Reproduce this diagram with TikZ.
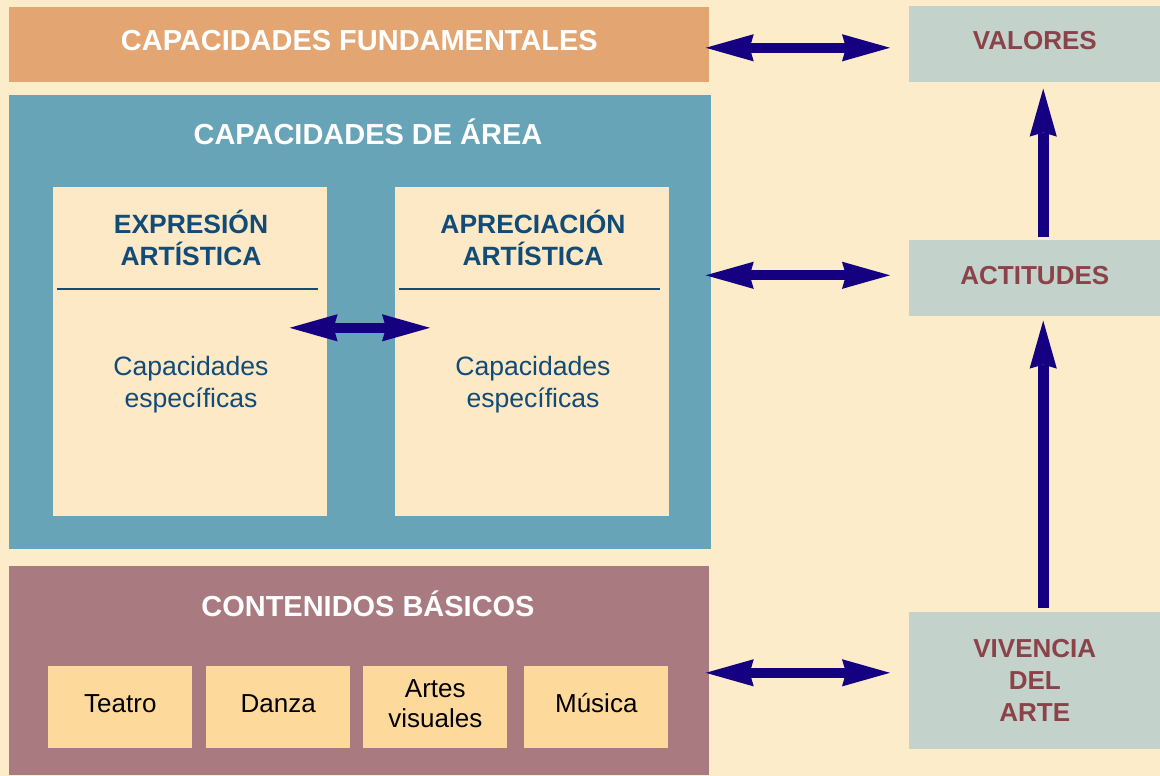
\documentclass[tikz,border=0pt]{standalone}
\usepackage{fontspec}
\setmainfont{Liberation Sans}
\usetikzlibrary{arrows.meta}

\definecolor{bgcream}{HTML}{FCECC9}
\definecolor{fundorange}{HTML}{E3A673}
\definecolor{areateal}{HTML}{68A4B7}
\definecolor{innercream}{HTML}{FDE9C5}
\definecolor{contmauve}{HTML}{A97B80}
\definecolor{artesand}{HTML}{FDDA9B}
\definecolor{sidegray}{HTML}{C3D2CB}
\definecolor{sidered}{HTML}{8B4349}
\definecolor{innernavy}{HTML}{114B77}
\definecolor{arrowblue}{HTML}{140080}

\begin{document}
\begin{tikzpicture}[
    x=0.025cm, y=-0.025cm,
    box/.style={
        rectangle,
        inner sep=0pt,
        anchor=north west,
        align=center
    },
    bigtitle/.style={
        text=white,
        font=\fontsize{20.6}{24}\selectfont\bfseries
    },
    innertitle/.style={
        text=innernavy,
        align=center,
        font=\fontsize{18.8}{22.8}\selectfont\bfseries
    },
    spectext/.style={
        text=innernavy,
        align=center,
        font=\fontsize{18.9}{22.8}\selectfont
    },
    artebox/.style={
        box, fill=artesand,
        minimum width=3.6cm, minimum height=2.05cm,
        text depth=0.2cm,
        font=\fontsize{18.5}{21.5}\selectfont
    },
    sidebox/.style={
        box, fill=sidegray, text=sidered,
        minimum width=6.275cm,
        font=\fontsize{18.5}{22.8}\selectfont\bfseries
    },
    dblarrow/.style={
        draw=arrowblue, line width=0.25cm,
        {Stealth[length=1.2cm, width=0.68cm, inset=0.1cm, line width=0pt]}-{Stealth[length=1.2cm, width=0.68cm, inset=0.1cm, line width=0pt]}
    },
    uparrow/.style={
        draw=arrowblue, line width=0.27cm,
        -{Stealth[length=1.2cm, width=0.68cm, inset=0.1cm, line width=0pt]}
    }
]

    % Background
    \useasboundingbox (0,0) rectangle (1160,776);
    \fill[bgcream] (0,0) rectangle (1160,776);

    % Left blocks
    \node [box, bigtitle, fill=fundorange, minimum width=17.5cm, minimum height=1.875cm, text depth=0.2cm] (fund) at (9,7) {CAPACIDADES FUNDAMENTALES};
    \node [box, fill=areateal, minimum width=17.55cm, minimum height=11.35cm] (area) at (9,95) {};
    \node [bigtitle] (areatitle) at (368,132) {CAPACIDADES DE ÁREA};

    \node [box, fill=innercream, minimum width=6.85cm, minimum height=8.225cm] (expr) at (53,187) {};
    \node [box, fill=innercream, minimum width=6.85cm, minimum height=8.225cm] (apre) at (395,187) {};
    \node [innertitle] (exprtitle) at (191,238) {EXPRESIÓN\\ARTÍSTICA};
    \node [innertitle] (apretitle) at (533,238) {APRECIACIÓN\\ARTÍSTICA};
    \draw [innernavy, line width=1.8pt] ([shift={(4,102)}]expr.north west) -- ([shift={(-10,102)}]expr.north east);
    \draw [innernavy, line width=1.8pt] ([shift={(4,102)}]apre.north west) -- ([shift={(-10,102)}]apre.north east);
    \node [spectext] (exprspec) at (191,385) {Capacidades\\específicas};
    \node [spectext] (aprespec) at (533,385) {Capacidades\\específicas};

    \node [box, fill=contmauve, minimum width=17.5cm, minimum height=5.225cm] (cont) at (9,566) {};
    \node [bigtitle] (conttitle) at (368,604) {CONTENIDOS BÁSICOS};
    \node [artebox] (teatro) at (48,666) {Teatro};
    \node [artebox] (danza) at (206,666) {Danza};
    \node [artebox] (artes) at (363,666) {Artes\\visuales};
    \node [artebox] (musica) at (524,666) {Música};

    % Right blocks
    \node [sidebox, minimum height=1.9cm, text depth=0.2cm] (valores) at (909,6) {VALORES};
    \node [sidebox, minimum height=1.9cm, text depth=0.15cm] (actitudes) at (909,240) {ACTITUDES};
    \node [sidebox, minimum height=3.425cm] (vivencia) at (909,612) {VIVENCIA\\DEL\\ARTE};

    % Edges
    \path [dblarrow, shorten <=-0.1cm, shorten >=0.475cm] ([yshift=-0.075cm]fund.east) -- ([yshift=-0.075cm]fund.east -| valores.west);
    \path [dblarrow, shorten <=-0.15cm, shorten >=0.475cm] ([yshift=0.075cm]actitudes.west -| area.east) -- ([yshift=0.075cm]actitudes.west);
    \path [dblarrow, shorten <=-0.1cm, shorten >=0.475cm] ([yshift=-0.05cm]cont.east) -- ([yshift=-0.05cm]cont.east -| vivencia.west);
    \path [dblarrow, shorten <=-0.95cm, shorten >=-0.875cm] ([yshift=0.6cm]expr.east) -- ([yshift=0.6cm]apre.east -| apre.west);

    \path [uparrow, shorten <=0.075cm, shorten >=0.15cm] ([xshift=0.21cm]actitudes.north) -- ([xshift=0.21cm]valores.south);
    \path [uparrow, shorten <=0.1cm, shorten >=0.1cm] ([xshift=0.21cm]vivencia.north) -- ([xshift=0.21cm]actitudes.south);

\end{tikzpicture}
\end{document}
